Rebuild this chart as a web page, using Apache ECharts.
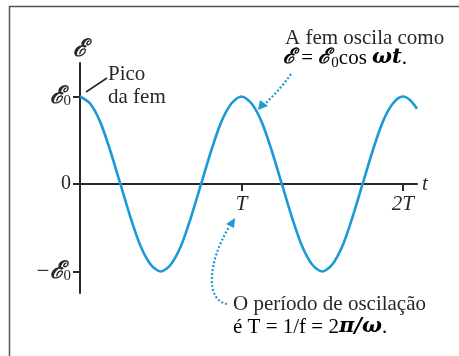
<!DOCTYPE html>
<html><head><meta charset="utf-8">
<script src="https://cdn.jsdelivr.net/npm/echarts@6/dist/echarts.min.js"></script>
<style>html,body{margin:0;padding:0;background:#fff}#c{width:459px;height:356px}</style>
</head><body><div id="c"></div>
<script>
// time in units of the period T
const tValues = [0,0.0625,0.125,0.1875,0.25,0.3125,0.375,0.4375,0.5,0.5625,0.625,0.6875,0.75,0.8125,0.875,0.9375,
  1,1.0625,1.125,1.1875,1.25,1.3125,1.375,1.4375,1.5,1.5625,1.625,1.6875,1.75,1.8125,1.875,1.9375,2,2.0435,2.087];
// emf in units of E0
const emfValues = [1,0.92,0.71,0.38,0,-0.38,-0.71,-0.92,-1,-0.92,-0.71,-0.38,0,0.38,0.71,0.92,
  1,0.92,0.71,0.38,0,-0.38,-0.71,-0.92,-1,-0.92,-0.71,-0.38,0,0.38,0.71,0.92,1,0.96,0.86];
const xTickValues = [1,2];
const xTickLabels = ['T','2T'];
const yTickValues = [-1,0,1];
const yTickLabels = ['{m|−}{e|ℰ}{s|0}','{n|0}','{e|ℰ}{s|0}'];

const SERIF = '"Liberation Serif", "DejaVu Serif", serif';
const BLUE = '#1b9ad7';
const INK = '#2b2728';
const richE = {
  e:{fontFamily:'"DejaVu Serif", serif',fontSize:24,fontWeight:'bold',fontStyle:'italic',color:INK},
  s:{fontFamily:SERIF,fontSize:15,color:INK,verticalAlign:'bottom',padding:[10,0,0,0]},
  m:{fontFamily:SERIF,fontSize:23,color:INK},
  n:{fontFamily:SERIF,fontSize:20,color:INK},
  t:{fontFamily:SERIF,fontSize:21,color:INK},
  g:{fontFamily:'"DejaVu Serif", serif',fontSize:21,fontWeight:'bold',fontStyle:'italic',color:INK}
};

const chart = echarts.init(document.getElementById('c'), null, {renderer:'canvas'});
chart.setOption({
  animation:false,
  backgroundColor:'#fff',
  grid:{left:80, top:63, width:337, height:230, containLabel:false},
  xAxis:{
    type:'value', min:0, max:2.087,
    axisLine:{onZero:true, lineStyle:{color:INK,width:2}},
    axisTick:{show:true, length:7, lineStyle:{color:INK,width:2}, customValues:xTickValues},
    axisLabel:{customValues:xTickValues, margin:-99,
      formatter:(v)=>xTickLabels[xTickValues.indexOf(Math.round(v))] || '',
      fontFamily:SERIF, fontSize:21, fontStyle:'italic', color:INK},
    splitLine:{show:false},
    name:'t', nameLocation:'end', nameGap:5,
    nameTextStyle:{fontFamily:SERIF,fontSize:21,fontStyle:'italic',color:INK,verticalAlign:'middle',padding:[0,0,6,0]}
  },
  yAxis:{
    type:'value', min:-1.246, max:1.383,
    axisLine:{show:true, onZero:false, lineStyle:{color:INK,width:2}},
    axisTick:{show:true, length:7, lineStyle:{color:INK,width:2}, customValues:yTickValues},
    axisLabel:{customValues:yTickValues, margin:9,
      formatter:(v)=>yTickLabels[yTickValues.indexOf(Math.round(v))] || '',
      rich:richE},
    splitLine:{show:false},
    name:'{e|ℰ}', nameLocation:'end', nameGap:1,
    nameTextStyle:{rich:richE, align:'center'}
  },
  series:[{
    type:'line', data:tValues.map((t,i)=>[t,emfValues[i]]),
    showSymbol:false, smooth:0.3, clip:false,
    lineStyle:{color:BLUE,width:2.6}
  }],
  graphic:[
    // frame
    {type:'polyline', silent:true, shape:{points:[[9.5,356],[9.5,6.5],[459,6.5]]}, style:{stroke:'#555',lineWidth:1.5,fill:null}},
    // Pico leader
    {type:'line', shape:{x1:86,y1:92,x2:107,y2:78}, style:{stroke:INK,lineWidth:1.6}},
    {type:'text', x:108, y:74, style:{text:'Pico', font:'21px '+SERIF, fill:INK, verticalAlign:'middle'}},
    {type:'text', x:108, y:97, style:{text:'da fem', font:'21px '+SERIF, fill:INK, verticalAlign:'middle'}},
    // top-right note
    {type:'text', x:285, y:38, style:{text:'A fem oscila como', font:'21px '+SERIF, fill:INK, verticalAlign:'middle'}},
    {type:'text', x:283, y:58, style:{text:'{g|ℰ}{t| = }{g|ℰ}{s|0}{t|cos }{g|ωt}{t|.}', rich:richE, verticalAlign:'middle'}},
    // dotted arrow 1
    {type:'bezierCurve', shape:{x1:291,y1:74,x2:265,y2:104,cpx1:282,cpy1:87,cpx2:272,cpy2:97}, style:{stroke:BLUE,lineWidth:2.2,lineDash:[2,2],fill:null}},
    {type:'polygon', shape:{points:[[258,110],[260,100],[268,106]]}, style:{fill:BLUE}},
    // bottom note
    {type:'text', x:233, y:304, style:{text:'O período de oscilação', font:'21px '+SERIF, fill:INK, verticalAlign:'middle'}},
    {type:'text', x:233, y:327, style:{text:'{t|é T = 1/f = 2}{g|π/ω}{t|.}', rich:richE, verticalAlign:'middle'}},
    // dotted arrow 2
    {type:'bezierCurve', shape:{x1:227,y1:304,x2:229,y2:227,cpx1:205,cpy1:300,cpx2:208,cpy2:262}, style:{stroke:BLUE,lineWidth:2.2,lineDash:[2,2],fill:null}},
    {type:'polygon', shape:{points:[[235,218],[226,224],[234,228]]}, style:{fill:BLUE}}
  ]
});
</script></body></html>
